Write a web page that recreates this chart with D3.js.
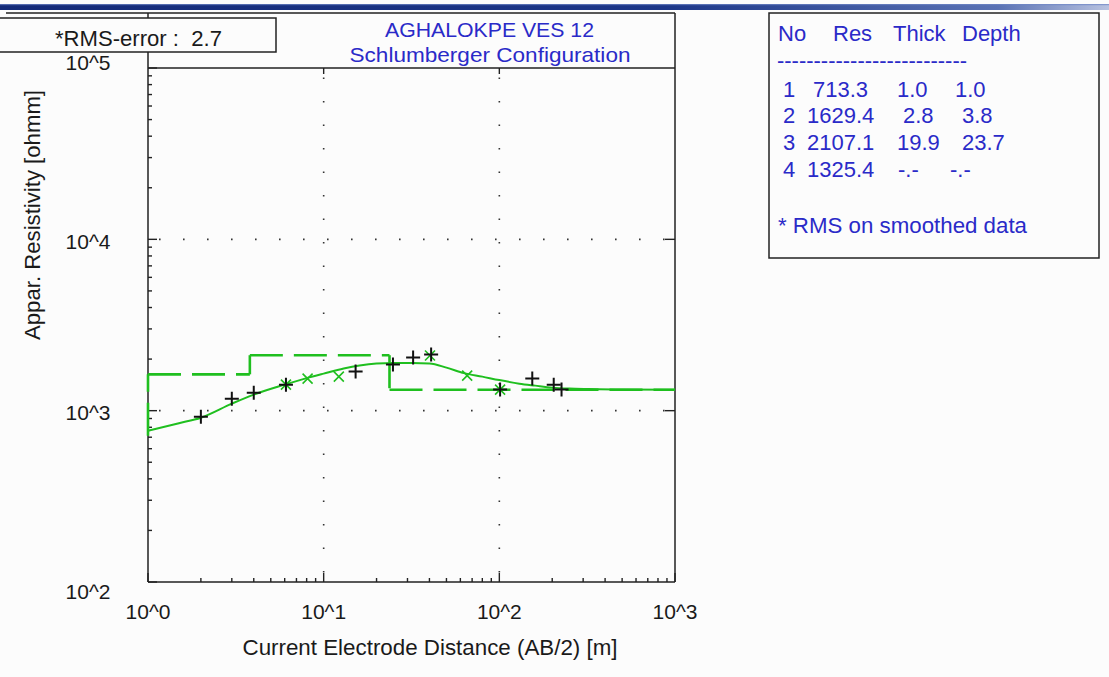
<!DOCTYPE html>
<html><head><meta charset="utf-8">
<script src="https://cdn.jsdelivr.net/npm/d3@7"></script>
<style>
html,body{margin:0;padding:0;background:#fcfcfc;}
svg{display:block;font-family:"Liberation Sans",Arial,sans-serif;}
text{white-space:pre;}
</style></head><body>
<svg id="c" width="1109" height="677"></svg>
<script>
// ---------- data ----------
const titleLines = ["AGHALOKPE VES 12", "Schlumberger Configuration"];
const rmsLabel = "*RMS-error :  2.7";
const xAxisTitle = "Current Electrode Distance (AB/2) [m]";
const yAxisTitle = "Appar. Resistivity [ohmm]";
const xTickValues = [1, 10, 100, 1000];
const xTickLabels = ["10^0", "10^1", "10^2", "10^3"];
const yTickValues = [100, 1000, 10000, 100000];
const yTickLabels = ["10^2", "10^3", "10^4", "10^5"];
const tableHeader = ["No", "Res", "Thick", "Depth"];
const layerNo = ["1", "2", "3", "4"];
const layerRes = [713.3, 1629.4, 2107.1, 1325.4];
const layerThick = [1.0, 2.8, 19.9, null];
const layerDepth = [1.0, 3.8, 23.7, null];
const tableNote = "* RMS on smoothed data";
// field data (black +)
const fieldAB2 = [2.0, 3.0, 4.0, 6.1, 15.2, 24.8, 32.3, 40.9, 101, 154, 204, 226];
const fieldRho = [923, 1175, 1274, 1419, 1691, 1858, 2042, 2124, 1327, 1539, 1419, 1327];
// smoothed data (green x)
const smoothAB2 = [6.1, 8.1, 12.2, 40.3, 65.6, 101];
const smoothRho = [1419, 1539, 1580, 2098, 1602, 1327];
// model response curve (green solid)
const curveAB2 = [1, 1.5, 2, 3, 4, 6, 8, 10, 13, 16, 20, 25, 32, 40, 50, 63, 80, 100, 130, 160, 200, 250, 320, 500, 1000];
const curveRho = [764, 845, 910, 1099, 1241, 1419, 1549, 1645, 1760, 1833, 1883, 1897, 1897, 1883, 1783, 1656, 1580, 1508, 1438, 1400, 1363, 1345, 1336, 1327, 1326];

// ---------- layout ----------
const L = 148, R = 675, T = 68, B = 582;
const GREEN = "#1fbf1f", BLUE = "#2a2ac8", INK = "#1a1a1a", FRAME = "#222";
const svg = d3.select("#c");
const x = d3.scaleLog().domain([1, 1000]).range([L, R]);
const y = d3.scaleLog().domain([100, 100000]).range([B, T]);

// top gradient bar
const defs = svg.append("defs");
const g1 = defs.append("linearGradient").attr("id", "bar").attr("x1", 0).attr("x2", 1).attr("y1", 0).attr("y2", 0);
g1.append("stop").attr("offset", "0").attr("stop-color", "#142a78");
g1.append("stop").attr("offset", "0.6").attr("stop-color", "#1c3688");
g1.append("stop").attr("offset", "0.9").attr("stop-color", "#5a72b4");
g1.append("stop").attr("offset", "1").attr("stop-color", "#b8c2e0");
svg.append("rect").attr("x", 0).attr("y", 4).attr("width", 1109).attr("height", 6).attr("fill", "url(#bar)");
svg.append("rect").attr("x", 0).attr("y", 4).attr("width", 1109).attr("height", 1.2).attr("fill", "#6f86c4").attr("opacity", 0.7);

// frame lines
const line = (x1, y1, x2, y2, w = 1.5, c = FRAME) => svg.append("line").attr("x1", x1).attr("y1", y1).attr("x2", x2).attr("y2", y2).attr("stroke", c).attr("stroke-width", w);
line(6, 13, R, 13);
line(L, 13, L, B);
line(R, 13, R, B);
line(L, T, R, T);
line(L, B, R, B);

// grid (dotted)
const gridG = svg.append("g");
[10, 100].forEach(v => {
  gridG.append("line").attr("x1", x(v)).attr("x2", x(v)).attr("y1", T).attr("y2", B)
    .attr("stroke", "#333").attr("stroke-width", 1.6).attr("stroke-dasharray", "1.6,21.9").attr("stroke-dashoffset", 14);
});
[1000, 10000].forEach(v => {
  gridG.append("line").attr("x1", L).attr("x2", R).attr("y1", y(v)).attr("y2", y(v))
    .attr("stroke", "#333").attr("stroke-width", 1.6).attr("stroke-dasharray", "1.6,22.4").attr("stroke-dashoffset", 13);
});

// ticks
const isMajor = v => Math.abs(Math.log10(v) - Math.round(Math.log10(v))) < 1e-9;
x.ticks().forEach(v => {
  const px = x(v), len = isMajor(v) ? 9 : 4;
  line(px, B, px, B - len, 1.4);
  if (isMajor(v) && v > 1 && v < 1000) line(px, T, px, T + 6, 1.4);
});
y.ticks().forEach(v => {
  const py = y(v), len = isMajor(v) ? 9 : 4;
  line(L, py, L + len, py, 1.4);
  if (isMajor(v) && v > 100 && v < 100000) line(R, py, R - 10, py, 1.4);
});

// tick labels
xTickValues.forEach((v, i) => {
  svg.append("text").attr("x", x(v)).attr("y", 619).attr("text-anchor", "middle")
    .attr("font-size", 21).attr("fill", INK).text(xTickLabels[i]);
});
yTickValues.forEach((v, i) => {
  let py = y(v) + 2;
  if (i === 0) py = y(v) + 9;
  if (i === yTickValues.length - 1) py = y(v) - 6;
  svg.append("text").attr("x", 88).attr("y", py).attr("dy", "0.36em").attr("text-anchor", "middle")
    .attr("font-size", 21).attr("fill", INK).text(yTickLabels[i]);
});

// axis titles
svg.append("text").attr("x", 430).attr("y", 655).attr("text-anchor", "middle").attr("font-size", 22)
  .attr("fill", INK).attr("textLength", 375).attr("lengthAdjust", "spacingAndGlyphs").text(xAxisTitle);
svg.append("text").attr("transform", "translate(40,215) rotate(-90)").attr("text-anchor", "middle").attr("font-size", 22)
  .attr("fill", INK).attr("textLength", 250).attr("lengthAdjust", "spacingAndGlyphs").text(yAxisTitle);

// title
svg.append("text").attr("x", 489.5).attr("y", 37).attr("text-anchor", "middle").attr("font-size", 21)
  .attr("fill", BLUE).attr("textLength", 209).attr("lengthAdjust", "spacingAndGlyphs").text(titleLines[0]);
svg.append("text").attr("x", 490).attr("y", 62).attr("text-anchor", "middle").attr("font-size", 21)
  .attr("fill", BLUE).attr("textLength", 281).attr("lengthAdjust", "spacingAndGlyphs").text(titleLines[1]);

// model (dashed steps), each segment dashed from its start
const pts = [];
let prevX = x.domain()[0];
layerRes.forEach((r, i) => {
  const d = layerDepth[i] == null ? x.domain()[1] : layerDepth[i];
  if (i > 0) pts.push([prevX, r]);
  else pts.push([prevX, r]);
  pts.push([Math.max(d, x.domain()[0]), r]);
  prevX = Math.max(d, x.domain()[0]);
});
const modelG = svg.append("g");
for (let i = 0; i < pts.length - 1; i++) {
  const a = pts[i], b = pts[i + 1];
  if (Math.abs(x(a[0]) - x(b[0])) < 0.01 && Math.abs(y(a[1]) - y(b[1])) < 0.01) continue;
  modelG.append("line").attr("x1", x(a[0])).attr("y1", y(a[1])).attr("x2", x(b[0])).attr("y2", y(b[1]))
    .attr("stroke", GREEN).attr("stroke-width", 2.6).attr("stroke-dasharray", "33,11");
}

// response curve
const curveData = curveAB2.map((v, i) => [v, curveRho[i]]);
svg.append("path").datum(curveData)
  .attr("d", d3.line().x(d => x(d[0])).y(d => y(d[1])).curve(d3.curveMonotoneX))
  .attr("fill", "none").attr("stroke", GREEN).attr("stroke-width", 2);

// smoothed data x
const sG = svg.append("g");
smoothAB2.forEach((v, i) => {
  const px = x(v), py = y(smoothRho[i]), h = 5;
  sG.append("path").attr("d", `M${px - h},${py - h}L${px + h},${py + h}M${px - h},${py + h}L${px + h},${py - h}`)
    .attr("stroke", GREEN).attr("stroke-width", 1.6).attr("fill", "none");
});
// field data +
const fG = svg.append("g");
fieldAB2.forEach((v, i) => {
  const px = x(v), py = y(fieldRho[i]), h = 7;
  fG.append("path").attr("d", `M${px - h},${py}L${px + h},${py}M${px},${py - h}L${px},${py + h}`)
    .attr("stroke", "#111").attr("stroke-width", 2).attr("fill", "none");
});

// RMS box
svg.append("rect").attr("x", -2).attr("y", 18).attr("width", 278).attr("height", 34)
  .attr("fill", "#fcfcfc").attr("stroke", FRAME).attr("stroke-width", 1.5);
svg.append("text").attr("x", 55).attr("y", 46).attr("font-size", 22).attr("fill", INK)
  .attr("textLength", 167).attr("lengthAdjust", "spacingAndGlyphs").text(rmsLabel);

// layer table
svg.append("rect").attr("x", 769).attr("y", 13).attr("width", 330).attr("height", 245)
  .attr("fill", "#fcfcfc").attr("stroke", FRAME).attr("stroke-width", 1.5);
const hdrX = [778, 833, 893, 962];
tableHeader.forEach((h, i) => svg.append("text").attr("x", hdrX[i]).attr("y", 41).attr("font-size", 22).attr("fill", BLUE).text(h));
svg.append("text").attr("x", 777).attr("y", 68).attr("font-size", 22).attr("fill", BLUE)
  .attr("textLength", 190).attr("lengthAdjust", "spacingAndGlyphs").text("--------------------------");
const rowY = [97, 123, 150, 177];
const colX = [[783, 813, 897, 955], [783, 807, 903, 962], [783, 807, 897, 962], [783, 807, 898, 950]];
const fmt = v => v == null ? "-.-" : v.toFixed(1);
layerNo.forEach((n, i) => {
  const cells = [n, fmt(layerRes[i]), fmt(layerThick[i]), fmt(layerDepth[i])];
  cells.forEach((c, j) => svg.append("text").attr("x", colX[i][j]).attr("y", rowY[i]).attr("font-size", 22).attr("fill", BLUE).text(c));
});
svg.append("text").attr("x", 778).attr("y", 233).attr("font-size", 22).attr("fill", BLUE)
  .attr("textLength", 249).attr("lengthAdjust", "spacingAndGlyphs").text(tableNote);
</script>
</body></html>
